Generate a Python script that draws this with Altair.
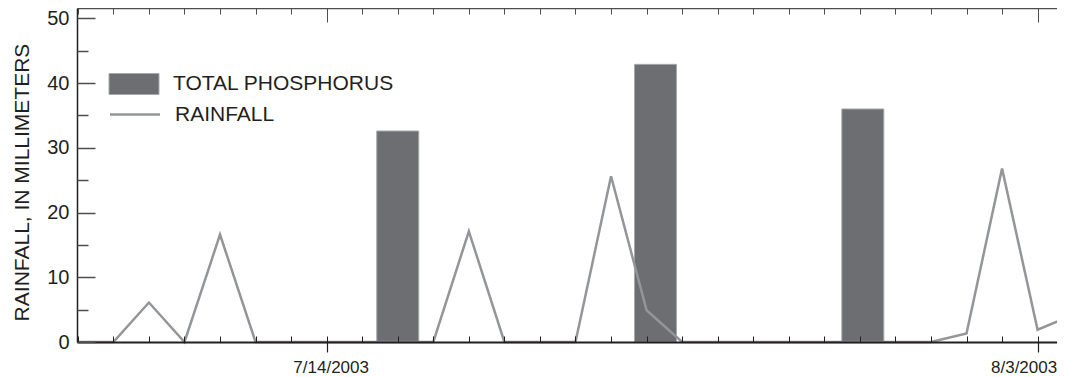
import altair as alt
import pandas as pd
from datetime import datetime

# ---------------- data ----------------
rain_dates = [
    "2003-07-07", "2003-07-08", "2003-07-09", "2003-07-10", "2003-07-11",
    "2003-07-12", "2003-07-13", "2003-07-14", "2003-07-15", "2003-07-16",
    "2003-07-17", "2003-07-18", "2003-07-19", "2003-07-20", "2003-07-21",
    "2003-07-22", "2003-07-23", "2003-07-24", "2003-07-25", "2003-07-26",
    "2003-07-27", "2003-07-28", "2003-07-29", "2003-07-30", "2003-07-31",
    "2003-08-01", "2003-08-02", "2003-08-03", "2003-08-04",
]
rain_mm = [
    0, 0, 6.1, 0, 16.6,
    0, 0, 0, 0, 0,
    0, 17.1, 0, 0, 0,
    25.6, 4.9, 0, 0, 0,
    0, 0, 0, 0, 0,
    1.3, 26.8, 1.9, 4.2,
]
tp_dates = ["2003-07-16T00:00", "2003-07-23T06:00", "2003-07-29T02:00"]
tp_values = [32.6, 42.9, 36.0]
label_date_first = "2003-07-14"
label_date_last = "2003-08-03"
y_major = [0, 10, 20, 30, 40, 50]
y_minor = [5, 15, 25, 35, 45]
x_domain = ["2003-07-06T23:26", "2003-08-03T13:06"]

SERIES_TP = "TOTAL PHOSPHORUS"
SERIES_RAIN = "RAINFALL"

# ---------------- helpers ----------------
def dt(s):
    d = datetime.fromisoformat(s)
    return alt.DateTime(year=d.year, month=d.month, date=d.day,
                        hours=d.hour, minutes=d.minute, utc=True)

def iso(s):
    d = datetime.fromisoformat(s)
    return d.strftime("%Y-%m-%dT%H:%M:%SZ")

rain_df = pd.DataFrame({"date": [iso(d) for d in rain_dates],
                        "rain": rain_mm,
                        "series": SERIES_RAIN})
tp_df = pd.DataFrame({"date": [iso(d) for d in tp_dates],
                      "value": tp_values,
                      "series": SERIES_TP})

W, H = 980, 334
FONT = "Liberation Sans"
INK = "#231f20"
TICK = "#4d4d4f"
LABEL_FMT = "utcFormat(datum.value, '%-m/%-d/%Y')"

xscale = alt.Scale(type="utc", domain=[dt(d) for d in x_domain], padding=0, nice=False)
yscale = alt.Scale(domain=[0, 51.6], nice=False, zero=True, padding=0)

minor_days = [dt(d) for d in rain_dates]
major_days = [dt(label_date_first), dt(label_date_last)]

label_style = dict(
    tickSize=10, tickColor=INK, tickWidth=1.2,
    labelExpr=LABEL_FMT, labelFont=FONT, labelFontSize=17, labelColor=INK,
    labelPadding=7, labelFlush=False, labelOverlap=False, grid=False,
    title=None, zindex=1,
)
# bottom axis: first labelled date, plus the bottom frame line
ax_bottom_first = alt.Axis(
    orient="bottom", values=[dt(label_date_first)], labelOffset=4,
    domain=True, domainColor=INK, domainWidth=2, **label_style,
)
# bottom axis: last labelled date
ax_bottom_last = alt.Axis(
    orient="bottom", values=[dt(label_date_last)], labelOffset=-14,
    domain=False, **label_style,
)
# bottom daily inward ticks (top-oriented axis moved to the bottom)
ax_bottom_minor = alt.Axis(
    orient="top", offset=-H, values=minor_days, tickSize=6, tickColor=INK, tickWidth=1,
    labels=False, domain=False, grid=False, title=None, zindex=1,
)
# top border with daily inward ticks
ax_top_minor = alt.Axis(
    orient="bottom", offset=-H, values=minor_days, tickSize=6, tickColor=TICK, tickWidth=1,
    labels=False, domain=True, domainColor=TICK, domainWidth=1.5,
    grid=False, title=None, zindex=1,
)
# top border longer major ticks
ax_top_major = alt.Axis(
    orient="bottom", offset=-H, values=major_days, tickSize=14, tickColor=TICK, tickWidth=1,
    labels=False, domain=False, grid=False, title=None, zindex=1,
)

ay_labels = alt.Axis(
    orient="left", values=y_major, ticks=False, labelPadding=8,
    labelFont=FONT, labelFontSize=20, labelColor=INK,
    domain=True, domainColor=INK, domainWidth=1.5, grid=False,
    title="RAINFALL, IN MILLIMETERS", titleFont=FONT, titleFontSize=21,
    titleFontWeight="normal", titleColor=INK, titleAngle=270,
    titleX=-54.5, titleY=174, titleAlign="center", titleBaseline="middle",
    zindex=1,
)
ay_major = alt.Axis(
    orient="right", offset=-W, values=y_major, tickSize=18, tickColor=TICK, tickWidth=1.5,
    labels=False, domain=False, grid=False, title=None, zindex=1,
)
ay_minor = alt.Axis(
    orient="right", offset=-W, values=y_minor, tickSize=11, tickColor=TICK, tickWidth=1.5,
    labels=False, domain=False, grid=False, title=None, zindex=1,
)

legend_common = dict(
    orient="none", title=None, padding=0, labelFont=FONT, labelFontSize=21,
    labelColor=INK, labelOffset=13.5, symbolSize=2500, labelLimit=0,
)

bars = alt.Chart(tp_df).mark_bar(size=42, stroke="#a7a9ac", strokeWidth=1).encode(
    x=alt.X("date:T", scale=xscale, axis=ax_bottom_first),
    y=alt.Y("value:Q", scale=yscale, axis=ay_labels),
    fill=alt.Fill("series:N",
                  scale=alt.Scale(domain=[SERIES_TP], range=["#6d6e71"]),
                  legend=alt.Legend(legendX=31.5, legendY=50.5,
                                    symbolType="M-1,-0.42H1V0.42H-1Z",
                                    symbolStrokeColor="#a7a9ac", symbolStrokeWidth=1,
                                    symbolOpacity=1, **legend_common)),
)

line = alt.Chart(rain_df).mark_line(strokeWidth=2.5).encode(
    x=alt.X("date:T", scale=xscale, axis=ax_bottom_minor),
    y=alt.Y("rain:Q", scale=yscale, axis=ay_major),
    stroke=alt.Stroke("series:N",
                      scale=alt.Scale(domain=[SERIES_RAIN], range=["#939598"]),
                      legend=alt.Legend(legendX=31.5, legendY=80,
                                        symbolType="stroke", symbolStrokeWidth=2.5,
                                        **legend_common)),
)

guide1 = alt.Chart(rain_df).mark_line(strokeOpacity=0).encode(
    x=alt.X("date:T", scale=xscale, axis=ax_top_minor),
    y=alt.Y("rain:Q", scale=yscale, axis=ay_minor),
)
guide2 = alt.Chart(rain_df).mark_line(strokeOpacity=0).encode(
    x=alt.X("date:T", scale=xscale, axis=ax_top_major),
    y=alt.Y("rain:Q", scale=yscale, axis=None),
)
guide3 = alt.Chart(rain_df).mark_line(strokeOpacity=0).encode(
    x=alt.X("date:T", scale=xscale, axis=ax_bottom_last),
    y=alt.Y("rain:Q", scale=yscale, axis=None),
)

chart = (
    alt.layer(bars, line, guide1, guide2, guide3)
    .resolve_axis(x="independent", y="independent")
    .properties(
        width=W, height=H,
        autosize=alt.AutoSizeParams(type="none"),
        padding={"left": 69, "top": 0, "right": 0, "bottom": 35},
        background="white",
    )
    .configure_view(stroke=None)
)

chart.save("out.html", embed_options={"renderer": "svg", "actions": False})
